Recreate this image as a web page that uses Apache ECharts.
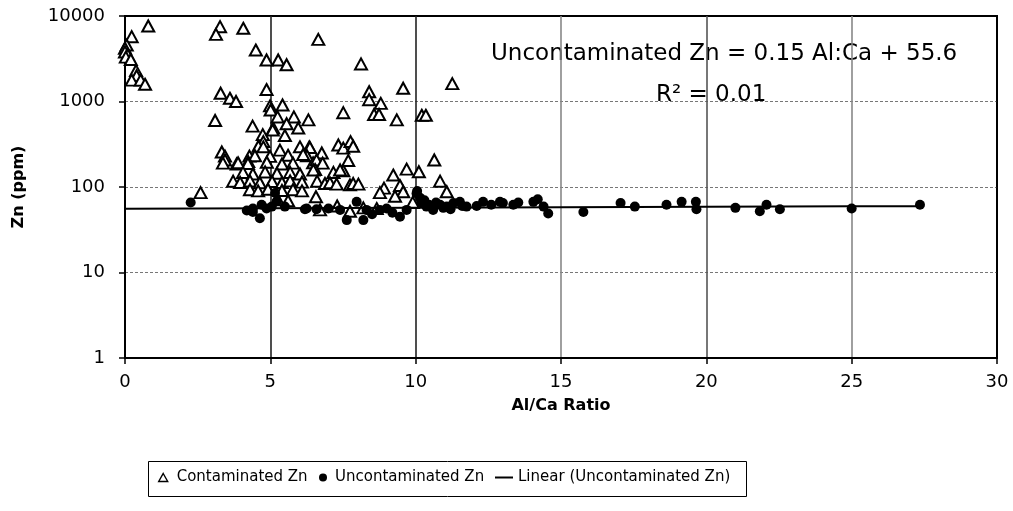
<!DOCTYPE html>
<html>
<head>
<meta charset="utf-8">
<script src="https://cdn.jsdelivr.net/npm/echarts@6/dist/echarts.min.js"></script>
<style>
  html, body { margin: 0; padding: 0; background: #fff; }
  #chart { width: 1013px; height: 511px; }
</style>
</head>
<body>
<div id="chart"></div>
<script>
// Al/Ca ratio vs Zn (ppm), contaminated and uncontaminated samples
const contaminatedZn = [
  [0.80, 7640], [0.23, 5730], [0.06, 4570], [0.00, 4200], [0.00, 3800], [0.10, 3500], [0.03, 3300],
  [0.20, 3100], [0.38, 2300], [0.40, 2000], [0.23, 1780], [0.54, 1780], [0.69, 1590],
  [3.27, 7500], [3.13, 6100], [4.07, 7180], [4.50, 4000], [4.87, 3060], [5.27, 3060], [5.56, 2690],
  [6.65, 5330], [8.12, 2750], [9.57, 1430], [11.26, 1620],
  [4.87, 1380], [3.29, 1250], [3.61, 1090], [3.82, 1000], [4.99, 890], [5.42, 910], [5.01, 796],
  [8.40, 1300], [8.40, 1050], [8.80, 950],
  [3.10, 600], [4.39, 515], [5.10, 490], [5.25, 660], [5.81, 660], [5.56, 550], [5.96, 490], [6.31, 610],
  [7.51, 740], [8.57, 705], [8.74, 705], [9.35, 610], [10.21, 690], [10.35, 690],
  [5.08, 464], [4.74, 410], [5.50, 400], [4.76, 340], [4.59, 300], [4.76, 295], [5.33, 270], [6.02, 295],
  [6.34, 295], [3.33, 257], [7.34, 310], [7.51, 285], [7.76, 340], [7.85, 300], [6.36, 290], [6.77, 250],
  [4.28, 230], [3.44, 230], [4.47, 232], [4.99, 228], [5.61, 235], [6.26, 232], [6.13, 240],
  [3.44, 207], [3.84, 186], [4.24, 198], [3.37, 190], [3.89, 192], [4.23, 188], [4.88, 195], [5.40, 186],
  [5.78, 190], [6.47, 192], [6.59, 207], [7.68, 204], [6.80, 190], [10.64, 207],
  [4.06, 148], [4.40, 142], [4.82, 150], [5.23, 145], [5.68, 148], [6.02, 142], [6.54, 160], [6.48, 158],
  [7.17, 148], [7.51, 155], [7.40, 158], [9.69, 162], [10.11, 151], [9.23, 138],
  [3.72, 117], [3.96, 113], [4.30, 118], [4.64, 112], [5.06, 116], [5.40, 113], [5.68, 118], [6.09, 114],
  [6.61, 117], [10.84, 117], [6.88, 110], [7.05, 112], [7.28, 108], [7.74, 106], [7.85, 110], [8.03, 108],
  [4.30, 93], [4.58, 90], [4.92, 94], [5.40, 91], [5.78, 93], [6.09, 90], [2.60, 86], [8.91, 97],
  [8.77, 86], [9.46, 104], [9.57, 88], [9.29, 78], [11.07, 88], [6.57, 77],
  [5.26, 71], [5.61, 69], [6.71, 54], [7.74, 52], [8.20, 57], [8.66, 56], [7.30, 60], [9.90, 66]
];

const uncontaminatedZn = [
  [2.26, 66], [4.19, 53], [4.40, 51], [4.40, 56], [4.64, 43], [4.70, 62], [4.87, 56], [5.05, 59],
  [5.16, 85], [5.22, 68], [5.50, 59], [6.19, 55], [6.25, 56], [6.59, 55], [7.00, 56], [7.40, 54],
  [7.63, 41], [7.97, 67], [8.20, 41], [8.31, 54], [8.50, 48], [8.77, 54], [9.00, 56], [9.20, 50],
  [9.46, 45], [9.69, 54], [10.03, 84], [10.05, 90], [10.15, 75], [10.20, 65], [10.30, 70], [10.37, 59],
  [10.45, 62], [10.60, 54], [10.70, 66], [10.84, 62], [10.95, 57], [11.07, 59], [11.20, 55], [11.30, 65],
  [11.52, 67], [11.60, 60], [11.75, 59], [12.10, 60], [12.32, 67], [12.60, 62], [12.90, 67], [13.00, 65],
  [13.36, 62], [13.53, 66], [14.05, 67], [14.20, 72], [14.40, 59], [14.56, 49], [15.77, 51], [17.05, 65],
  [17.54, 59], [18.63, 62], [19.15, 67], [19.64, 67], [19.66, 55], [21.00, 57], [21.84, 52], [22.07, 62],
  [22.53, 55], [25.00, 56], [27.35, 62]
];

const xTicks = [0, 5, 10, 15, 20, 25, 30];
const yTicks = [1, 10, 100, 1000, 10000];
const seriesNames = ['Contaminated Zn', 'Uncontaminated Zn', 'Linear (Uncontaminated Zn)'];

// Linear fit of the uncontaminated samples: Zn = 0.15 Al:Ca + 55.6
const trendSlope = 0.15;
const trendIntercept = 55.6;
const trendEnd = Math.max(...uncontaminatedZn.map(p => p[0]));
const trendXs = [0, 5, 10, 15, 20, 25, trendEnd];
const trendLine = trendXs.map(x => [x, trendSlope * x + trendIntercept]);

const FONT = '"DejaVu Sans", "Liberation Sans", Arial, sans-serif';
const legendText = { fontFamily: FONT, fontSize: 15, color: '#000' };

// one legend block per entry so each key can have its own size
function legendBlock(name, left, width, height, icon, style, textPad) {
  return {
    left: left, top: 470, padding: 0,
    itemWidth: width, itemHeight: height,
    selectedMode: false,
    textStyle: Object.assign({ padding: [0, 0, 0, textPad] }, legendText),
    data: [{ name: name, icon: icon, itemStyle: style }]
  };
}

const chart = echarts.init(document.getElementById('chart'), null, { renderer: 'canvas' });

chart.setOption({
  animation: false,
  backgroundColor: '#fff',
  textStyle: { fontFamily: FONT, color: '#000' },
  grid: {
    left: 125, right: 16, top: 16, bottom: 153,
    show: true, borderColor: '#000', borderWidth: 2, backgroundColor: 'transparent'
  },
  xAxis: {
    type: 'value',
    min: xTicks[0], max: xTicks[xTicks.length - 1], interval: 5,
    name: 'Al/Ca Ratio', nameLocation: 'middle', nameGap: 40,
    nameTextStyle: { fontFamily: FONT, fontWeight: 'bold', fontSize: 16, color: '#000' },
    axisLine: { show: true, onZero: false, lineStyle: { color: '#000', width: 2 } },
    axisTick: { show: true, inside: false, length: 6, lineStyle: { color: '#000', width: 1.5 } },
    axisLabel: { fontFamily: FONT, fontSize: 18, color: '#000', margin: 15 },
    splitLine: {
      show: true, showMinLine: true, showMaxLine: true,
      lineStyle: { color: ['#000', '#222', '#222', '#888', '#555', '#888', '#000'], width: 1.6 }
    }
  },
  yAxis: {
    type: 'log', logBase: 10,
    min: yTicks[0], max: yTicks[yTicks.length - 1],
    name: 'Zn (ppm)', nameLocation: 'middle', nameGap: 98,
    nameTextStyle: { fontFamily: FONT, fontWeight: 'bold', fontSize: 16, color: '#000' },
    axisLine: { show: true, onZero: false, lineStyle: { color: '#000', width: 2 } },
    axisTick: { show: true, inside: false, length: 6, lineStyle: { color: '#000', width: 1.5 } },
    axisLabel: {
      fontFamily: FONT, fontSize: 18, color: '#000', margin: 20,
      formatter: v => String(Math.round(v))
    },
    splitLine: {
      show: true, showMinLine: false, showMaxLine: false,
      lineStyle: { color: '#777', width: 1, type: [3, 2] }
    },
    minorTick: { show: false }
  },
  legend: [
    legendBlock(seriesNames[0], 158, 9, 8, 'triangle',
      { color: '#fff', borderColor: '#000', borderWidth: 1.4 }, 4),
    legendBlock(seriesNames[1], 319, 8, 8, 'circle', { color: '#000' }, 3),
    legendBlock(seriesNames[2], 495, 18, 2, 'rect', { color: '#000' }, 0)
  ],
  graphic: [
    {
      type: 'rect', silent: true, z: -1,
      shape: { x: 148.5, y: 461.5, width: 598, height: 35 },
      style: { fill: '#fff', stroke: '#000', lineWidth: 1 }
    },
    {
      type: 'text', left: 491, top: 43, silent: true,
      style: { text: 'Uncontaminated Zn = 0.15 Al:Ca + 55.6', font: '23px ' + FONT, fill: '#000' }
    },
    {
      type: 'text', left: 656, top: 84, silent: true,
      style: { text: 'R² = 0.01', font: '23px ' + FONT, fill: '#000' }
    }
  ],
  series: [
    {
      name: seriesNames[0],
      type: 'scatter',
      symbol: 'triangle',
      symbolSize: [12, 11],
      itemStyle: { color: '#fff', borderColor: '#000', borderWidth: 2, opacity: 1 },
      data: contaminatedZn,
      z: 3
    },
    {
      name: seriesNames[1],
      type: 'scatter',
      symbol: 'circle',
      symbolSize: 10,
      itemStyle: { color: '#000', opacity: 1 },
      data: uncontaminatedZn,
      z: 4
    },
    {
      name: seriesNames[2],
      type: 'line',
      color: '#000',
      showSymbol: false,
      symbol: 'none',
      smooth: false,
      lineStyle: { color: '#000', width: 2 },
      data: trendLine,
      z: 5
    }
  ]
});
</script>
</body>
</html>
